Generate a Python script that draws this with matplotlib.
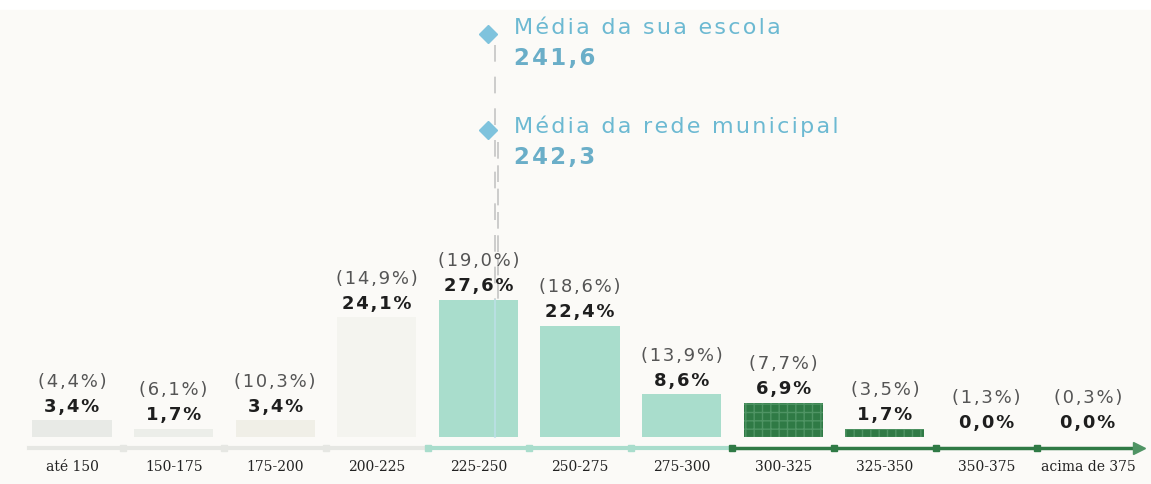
import numpy as np
import matplotlib.pyplot as plt
from matplotlib.patches import Rectangle

# faixas de proficiencia
categories = ['até 150', '150-175', '175-200', '200-225', '225-250', '250-275',
              '275-300', '300-325', '325-350', '350-375', 'acima de 375']
escola = [3.4, 1.7, 3.4, 24.1, 27.6, 22.4, 8.6, 6.9, 1.7, 0.0, 0.0]
rede = [4.4, 6.1, 10.3, 14.9, 19.0, 18.6, 13.9, 7.7, 3.5, 1.3, 0.3]
media_escola = 241.6
media_rede = 242.3

bar_colors = ['#e8eae6', '#eceee9', '#f0efe7', '#f4f4ef', '#a9ddcc', '#a9ddcc',
              '#a9ddcc', '#2f7a45', '#2f7a45', '#2f7a45', '#2f7a45']

def fmt(v):
    return f'{v:.1f}'.replace('.', ',')

def spaced(s):
    # fake letter spacing with hair spaces
    return '\u200a'.join(s)

def score_to_x(v):
    # bin 225-250 sits at index 4, each bin is 25 points wide
    return 4 + (v - 237.5) / 25

fig = plt.figure(figsize=(11.51, 4.85), dpi=100)
fig.patches.append(Rectangle((0.0, 0.0), 1, 0.978, transform=fig.transFigure,
                             color='#fbfaf7', zorder=-10))
ax = fig.add_axes([0, 0, 1, 1])
ax.set_xlim(-0.709, 10.62)
ax.set_ylim(-9.48, 88.3)
ax.axis('off')

x = np.arange(len(categories))
for i in x:
    dark = bar_colors[i] == '#2f7a45'
    ax.bar(i, escola[i], width=0.78, color=bar_colors[i],
           hatch='++' if dark else None, edgecolor='#4f9464' if dark else 'none',
           linewidth=0, zorder=2)
    ax.annotate(spaced(fmt(escola[i]) + '%'), (i, escola[i]), xytext=(0, 10.5),
                textcoords='offset points', ha='center', va='center',
                fontsize=13, fontweight='bold', color='#1e1e1e')
    ax.annotate(spaced('(' + fmt(rede[i]) + '%)'), (i, escola[i]), xytext=(0, 28.5),
                textcoords='offset points', ha='center', va='center',
                fontsize=13, color='#555555')
    ax.text(i, -5.9, categories[i], ha='center', va='center', fontsize=10,
            family='DejaVu Serif', color='#222222')

# eixo da escala
axis_y = -2.2
ax.plot([-0.42, 3.5], [axis_y, axis_y], color='#e6e7e3', lw=3, zorder=1)
ax.plot([3.5, 6.5], [axis_y, axis_y], color='#a9ddcc', lw=3, zorder=1)
ax.plot([6.5, 10.45], [axis_y, axis_y], color='#2f7a45', lw=2.5, zorder=1)
ax.plot([10.5], [axis_y], marker='>', color='#4f9464', markersize=8, zorder=1)
bounds = np.arange(0.5, 10, 1)
tick_colors = ['#e6e7e3'] * 3 + ['#a9ddcc'] * 3 + ['#2f7a45'] * 4
for b, c in zip(bounds, tick_colors):
    ax.plot([b], [axis_y], marker='s', color=c, markersize=5, zorder=2)

# medias
xe = score_to_x(media_escola)
xr = score_to_x(media_rede)
ax.plot([xe, xe], [79.0, escola[4]], color='#c4c4c4', lw=1.2, dashes=(10, 9), zorder=1)
ax.plot([xr, xr], [59.5, escola[4]], color='#c4c4c4', lw=1.2, dashes=(10, 4), zorder=1)
ax.plot([xe, xe], [escola[4], 0], color='#bfe0ea', lw=1.5, alpha=0.7, zorder=3)
ax.plot([xe - 0.07], [81.2], marker='D', color='#7fc3dd', markersize=9)
ax.plot([xe - 0.07], [61.8], marker='D', color='#7fc3dd', markersize=9)
ax.text(xe + 0.19, 82.6, spaced('Média da sua escola'), fontsize=16, color='#6cb9d2',
        va='center', ha='left')
ax.text(xe + 0.19, 76.6, spaced(fmt(media_escola)), fontsize=16.5, fontweight='bold',
        color='#6aaec8', va='center', ha='left')
ax.text(xe + 0.19, 62.8, spaced('Média da rede municipal'), fontsize=16, color='#6cb9d2',
        va='center', ha='left')
ax.text(xe + 0.19, 56.5, spaced(fmt(media_rede)), fontsize=16.5, fontweight='bold',
        color='#6aaec8', va='center', ha='left')

fig.savefig('out.png', dpi=100)
